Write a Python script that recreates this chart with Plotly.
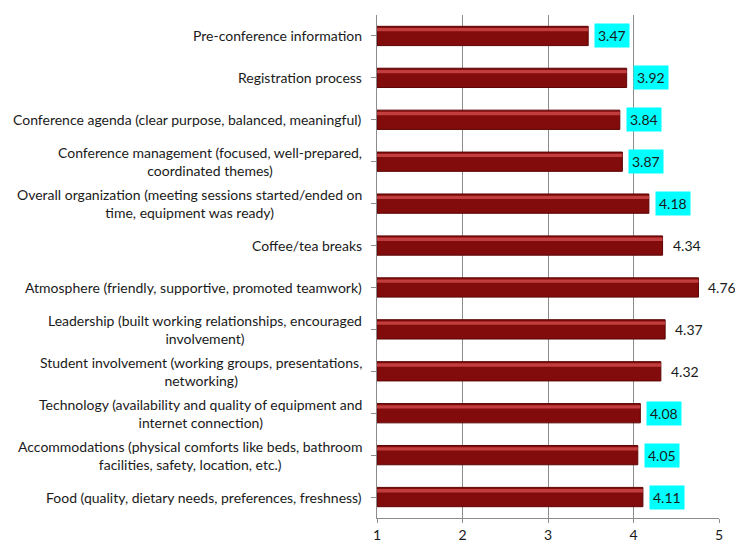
import plotly.graph_objects as go

categories = [
    "Pre-conference information",
    "Registration process",
    "Conference agenda (clear purpose, balanced, meaningful)",
    "Conference management (focused, well-prepared,<br>coordinated themes)",
    "Overall organization (meeting sessions started/ended on<br>time, equipment was ready)",
    "Coffee/tea breaks",
    "Atmosphere (friendly, supportive, promoted teamwork)",
    "Leadership (built working relationships, encouraged<br>involvement)",
    "Student involvement (working groups, presentations,<br>networking)",
    "Technology (availability and quality of equipment and<br>internet connection)",
    "Accommodations (physical comforts like beds, bathroom<br>facilities, safety, location, etc.)",
    "Food (quality, dietary needs, preferences, freshness)",
]
values = [3.47, 3.92, 3.84, 3.87, 4.18, 4.34, 4.76, 4.37, 4.32, 4.08, 4.05, 4.11]
highlighted = [True, True, True, True, True, False, False, False, False, True, True, True]
x_ticks = [1, 2, 3, 4, 5]

AXIS_MIN = 1
ids = list(range(len(categories)))
lengths = [v - AXIS_MIN for v in values]
FONT = "Lato, Open Sans, sans-serif"

fig = go.Figure()
# main bar body
fig.add_trace(go.Bar(
    y=ids, x=lengths, base=AXIS_MIN, orientation="h",
    width=0.46,
    marker=dict(color="#820b0b", line=dict(color="#5c0505", width=1)),
    hoverinfo="skip", showlegend=False,
))
# highlight stripe (pseudo 3D)
fig.add_trace(go.Bar(
    y=ids, x=lengths, base=AXIS_MIN, orientation="h",
    width=0.08, offset=-0.19,
    marker=dict(color="rgba(215,80,80,0.75)", line=dict(width=0)),
    hoverinfo="skip", showlegend=False,
))

annotations = []
for i, (cat, v, hl) in enumerate(zip(categories, values, highlighted)):
    annotations.append(dict(
        x=AXIS_MIN, y=i, xref="x", yref="y", text=cat, showarrow=False,
        xanchor="right", yanchor="middle", align="center", xshift=-13,
        font=dict(family=FONT, size=14, color="#1a1a1a"),
    ))
    annotations.append(dict(
        x=v, y=i, xref="x", yref="y", text=f"{v:.2f}", showarrow=False,
        xanchor="left", yanchor="middle", xshift=6,
        bgcolor="#00ffff" if hl else "rgba(0,0,0,0)", borderpad=3,
        font=dict(family=FONT, size=14, color="#1a1a1a"),
    ))

fig.update_layout(
    width=735, height=546,
    margin=dict(l=377, r=16, t=15, b=28),
    paper_bgcolor="white", plot_bgcolor="white",
    barmode="overlay",
    annotations=annotations,
    xaxis=dict(
        range=[1, 5], tickvals=x_ticks, ticktext=[str(t) for t in x_ticks],
        showgrid=True, gridcolor="#8c8c8c", gridwidth=1,
        showline=True, linecolor="#8c8c8c", ticks="outside", ticklen=4, tickcolor="#8c8c8c",
        tickfont=dict(family=FONT, size=14, color="#1a1a1a"),
        zeroline=False, fixedrange=True, automargin=False,
    ),
    yaxis=dict(
        range=[11.5, -0.5], tickvals=ids, showticklabels=False,
        showline=True, linecolor="#8c8c8c", ticks="outside", ticklen=5, tickcolor="#8c8c8c",
        showgrid=False, zeroline=False, automargin=False,
    ),
)

fig.write_html("out.html")
